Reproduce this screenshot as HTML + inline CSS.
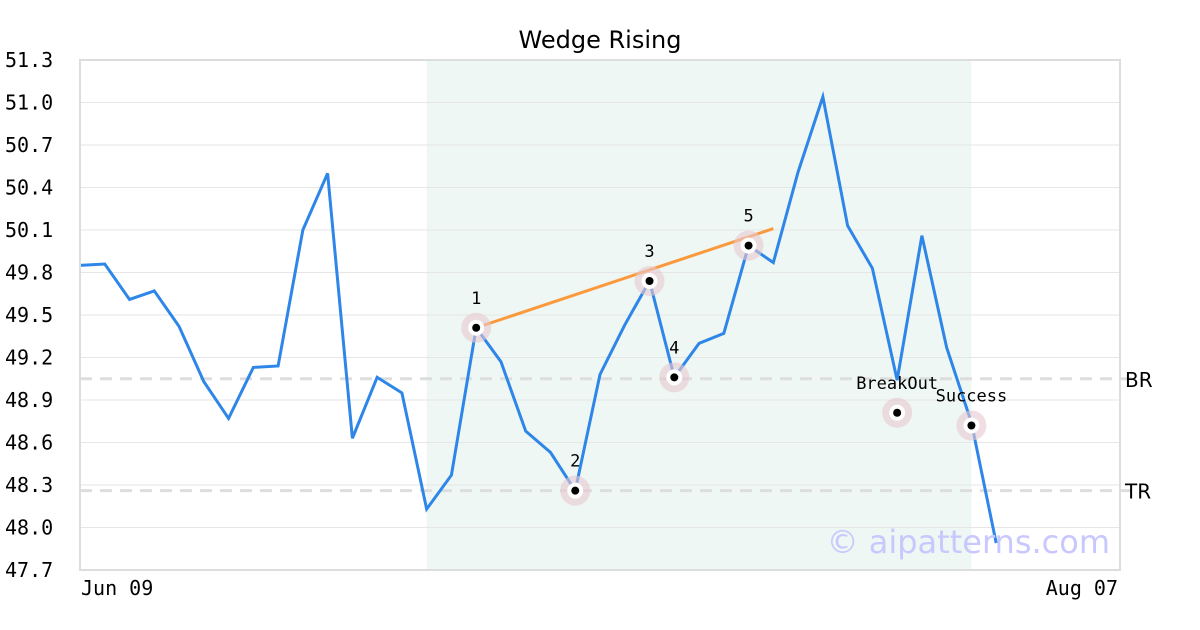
<!DOCTYPE html>
<html><head><meta charset="utf-8"><style>
html,body{margin:0;padding:0;background:#fff}
svg{display:block}
.tick{font-family:"DejaVu Sans Mono","Liberation Mono",monospace;font-size:20px;fill:#000}
.lbl{font-family:"DejaVu Sans Mono","Liberation Mono",monospace;font-size:17px;fill:#000}
</style></head><body>
<svg id="chart" width="1200" height="630" xmlns="http://www.w3.org/2000/svg">
<text x="600" y="48" text-anchor="middle" font-family="DejaVu Sans, Liberation Sans, sans-serif" font-size="24">Wedge Rising</text>
<g id="grid"></g>
<g id="marks"></g>
<rect x="80" y="60" width="1040" height="510" fill="none" stroke="#ddd" stroke-width="2"/>
<text class="tick" x="81" y="595">Jun 09</text>
<text class="tick" x="1118" y="595" text-anchor="end">Aug 07</text>
<text x="1110" y="553" text-anchor="end" font-family="DejaVu Sans, Liberation Sans, sans-serif" font-size="32" fill="#c8c8ff">© aipatterns.com</text>
</svg>
<script>
const values = [49.85,49.86,49.61,49.67,49.42,49.03,48.77,49.13,49.14,50.10,50.50,48.63,49.06,48.95,48.13,48.37,49.41,49.17,48.68,48.53,48.26,49.08,49.43,49.74,49.06,49.30,49.37,49.99,49.87,50.51,51.04,50.13,49.83,49.04,50.06,49.27,48.74,47.89];
const yTicks = [47.7,48.0,48.3,48.6,48.9,49.2,49.5,49.8,50.1,50.4,50.7,51.0,51.3];
const pointIdx = [16,20,23,24,27,33,36];
const pointVals = [49.41,48.26,49.74,49.06,49.99,48.81,48.72];
const pointLabels = ["1","2","3","4","5","BreakOut","Success"];
const levelVals = [49.05,48.26];
const levelNames = ["BR","TR"];
const shadeRange = [14,36];
const trendIdx = [16,28];
const trendVals = [49.41,50.11];

const X0=80,X1=1120,Y0=570,Y1=60,XMAX=42,YMIN=47.7,YMAX=51.3;
const xs=i=>X0+i*(X1-X0)/XMAX;
const ys=v=>Y0-(v-YMIN)*(Y0-Y1)/(YMAX-YMIN);
const NS="http://www.w3.org/2000/svg";
function mk(parent,tag,attrs){const e=document.createElementNS(NS,tag);for(const k in attrs)e.setAttribute(k,attrs[k]);parent.appendChild(e);return e;}
const grid=document.getElementById('grid'), marks=document.getElementById('marks');

const shade=mk(grid,'rect',{x:xs(shadeRange[0]),y:Y1,width:xs(shadeRange[1])-xs(shadeRange[0]),height:Y0-Y1,fill:'#eef7f3'});



yTicks.forEach(t=>{
  const l=mk(grid,'line',{x1:X0,x2:X1,y1:ys(t),y2:ys(t),stroke:'#e6e6e6','stroke-width':1});
  
  
  const tx=mk(grid,'text',{x:5,y:ys(t)+7,class:'tick'});
  
  
  tx.textContent=t.toFixed(1);
});

levelVals.forEach((v,i)=>{
  const l=mk(grid,'line',{x1:X0,x2:X1+25,y1:ys(v),y2:ys(v),stroke:'#ddd','stroke-width':3,'stroke-dasharray':'12,8'});
  
  
  const t=mk(grid,'text',{x:1125,y:ys(v)+8,'font-family':'DejaVu Sans, Liberation Sans, sans-serif','font-size':20});
  
  
  t.textContent=levelNames[i];
});

const line=mk(marks,'polyline',{points:values.map((v,i)=>xs(i)+','+ys(v)).join(' '),fill:'none',stroke:'#2e86e8','stroke-width':3,'stroke-linejoin':'miter'});



const tl=mk(marks,'line',{x1:xs(trendIdx[0]),y1:ys(trendVals[0]),x2:xs(trendIdx[1]),y2:ys(trendVals[1]),stroke:'#fb9a3c','stroke-width':3});



pointIdx.forEach((ix,k)=>{
  const cx=xs(ix),cy=ys(pointVals[k]);
  const g=mk(marks,'g',{});
  
  
  mk(g,'circle',{cx:cx,cy:cy,r:15,fill:'#e8c8d0','fill-opacity':0.6});
  mk(g,'circle',{cx:cx,cy:cy,r:8,fill:'#fff'});
  mk(g,'circle',{cx:cx,cy:cy,r:4,fill:'#000'});
  const t=mk(g,'text',{x:cx,y:cy-24,'text-anchor':'middle',class:'lbl'});
  t.textContent=pointLabels[k];
});
</script>
</body></html>
